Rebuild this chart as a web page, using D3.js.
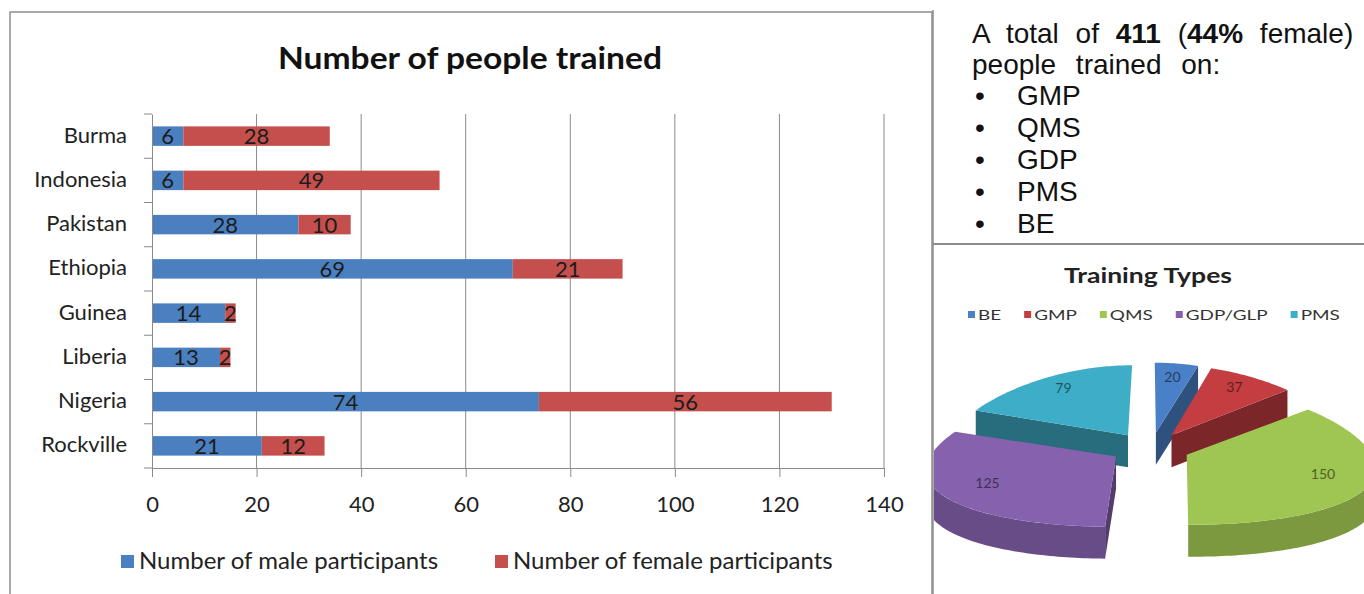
<!DOCTYPE html>
<html>
<head>
<meta charset="utf-8">
<script src="https://cdn.jsdelivr.net/npm/d3@7/dist/d3.min.js"></script>
<style>
body { margin: 0; background: #fff; }
svg { display: block; }
</style>
</head>
<body>
<script>
// bar chart data
const countries = ["Burma", "Indonesia", "Pakistan", "Ethiopia", "Guinea", "Liberia", "Nigeria", "Rockville"]
const maleCounts = [6, 6, 28, 69, 14, 13, 74, 21]
const femaleCounts = [28, 49, 10, 21, 2, 2, 56, 12]
const xTicks = [0, 20, 40, 60, 80, 100, 120, 140]
const seriesNames = ["Number of male participants", "Number of female participants"]

// pie data
const trainingTypes = ["BE", "GMP", "QMS", "GDP/GLP", "PMS"]
const trainingCounts = [20, 37, 150, 125, 79]

// summary text
const summaryTopics = ["GMP", "QMS", "GDP", "PMS", "BE"]

const barColors = ["#4a7fc0", "#c44f4c"]
const pieColors = ["#4a80c8", "#c43d40", "#9fc552", "#8661ae", "#3eaec8"]
const gridColor = "#8a8a8a"

const svg = d3.select("body").append("svg").attr("width", 1364).attr("height", 594)
    .style("font-family", "Lato, 'Open Sans', sans-serif")

// ---------- left frame: bar chart ----------
svg.append("rect").attr("x", 10).attr("y", 12).attr("width", 922).attr("height", 600)
    .attr("fill", "none").attr("stroke", "#8c8c8c").attr("stroke-width", 1.5)

svg.append("text").attr("x", 470).attr("y", 69).attr("text-anchor", "middle")
    .attr("font-size", 31).attr("font-weight", "bold").attr("fill", "#111")
    .attr("textLength", 384).attr("lengthAdjust", "spacingAndGlyphs")
    .text("Number of people trained")

const x = d3.scaleLinear().domain([0, 140]).range([152, 884])
const y = d3.scaleBand().domain(countries).range([114, 468]).paddingInner(0.56).paddingOuter(0.28)

// vertical gridlines
svg.selectAll("line.grid").data(xTicks.slice(1)).enter().append("line")
    .attr("class", "grid")
    .attr("x1", d => x(d)).attr("x2", d => x(d))
    .attr("y1", y.range()[0]).attr("y2", y.range()[1])
    .attr("stroke", gridColor).attr("stroke-width", 1)

const table = countries.map((c, i) => ({ country: c, male: maleCounts[i], female: femaleCounts[i] }))
const stacked = d3.stack().keys(["male", "female"])(table)

const layers = svg.selectAll("g.layer").data(stacked).enter().append("g")
    .attr("class", "layer").attr("fill", (d, i) => barColors[i])

layers.selectAll("rect").data(d => d).enter().append("rect")
    .attr("x", d => x(d[0]))
    .attr("y", d => y(d.data.country))
    .attr("width", d => x(d[1]) - x(d[0]))
    .attr("height", y.bandwidth())

layers.selectAll("text").data(d => d).enter().append("text")
    .attr("x", d => (x(d[0]) + x(d[1])) / 2)
    .attr("y", d => y(d.data.country) + y.bandwidth() / 2 + 8)
    .attr("text-anchor", "middle").attr("font-size", 22).attr("fill", "#1c1c1c")
    .text(d => d[1] - d[0])

// x axis
const xAxis = svg.append("g").attr("transform", "translate(0," + y.range()[1] + ")")
    .call(d3.axisBottom(x).tickValues(xTicks).tickSize(9).tickSizeOuter(0))
xAxis.attr("font-family", null)
xAxis.select(".domain").attr("stroke", gridColor)
xAxis.selectAll(".tick line").attr("stroke", gridColor)
xAxis.selectAll(".tick text").attr("font-size", 22).attr("fill", "#222").attr("y", 44).attr("dy", null)

// y axis
const yAxis = svg.append("g").attr("transform", "translate(" + x(0) + ",0)")
    .call(d3.axisLeft(y).tickSize(0).tickSizeOuter(0).tickPadding(25))
yAxis.attr("font-family", null)
yAxis.select(".domain").attr("stroke", gridColor)
yAxis.selectAll(".tick text").attr("font-size", 22).attr("fill", "#222").attr("dy", "0.3em")

svg.selectAll("line.ytick").data(d3.range(countries.length + 1)).enter().append("line")
    .attr("class", "ytick")
    .attr("x1", x(0) - 8).attr("x2", x(0))
    .attr("y1", i => y.range()[0] + i * y.step()).attr("y2", i => y.range()[0] + i * y.step())
    .attr("stroke", gridColor)

// bar legend
const legendX = [121, 495]
seriesNames.forEach((name, i) => {
    svg.append("rect").attr("x", legendX[i]).attr("y", 555).attr("width", 13).attr("height", 13)
        .attr("fill", barColors[i])
    svg.append("text").attr("x", legendX[i] + 18).attr("y", 569)
        .attr("font-size", 24).attr("fill", "#222")
        .text(name)
})

// ---------- right top: summary text ----------
svg.append("line").attr("x1", 933).attr("x2", 933).attr("y1", 10).attr("y2", 594)
    .attr("stroke", "#8c8c8c").attr("stroke-width", 1.5)
svg.append("line").attr("x1", 933).attr("x2", 1364).attr("y1", 244).attr("y2", 244)
    .attr("stroke", "#8c8c8c").attr("stroke-width", 2)

const summary = svg.append("g").attr("font-family", "'Liberation Sans', Arial, sans-serif")
    .attr("font-size", 28).attr("fill", "#111")
const line1 = summary.append("text").attr("x", 972).attr("y", 43).attr("word-spacing", 9)
line1.append("tspan").text("A total of ")
line1.append("tspan").attr("font-weight", "bold").text(d3.sum(maleCounts) + d3.sum(femaleCounts))
line1.append("tspan").text(" (")
line1.append("tspan").attr("font-weight", "bold")
    .text(Math.round(100 * d3.sum(femaleCounts) / (d3.sum(maleCounts) + d3.sum(femaleCounts))) + "%")
line1.append("tspan").text(" female)")
summary.append("text").attr("x", 972).attr("y", 74).attr("word-spacing", 12).text("people trained on:")
summaryTopics.forEach((t, i) => {
    summary.append("text").attr("x", 975).attr("y", 105 + i * 32).text("\u2022")
    summary.append("text").attr("x", 1017).attr("y", 105 + i * 32).text(t)
})

// ---------- right bottom: 3D pie ----------
svg.append("text").attr("x", 1148).attr("y", 283).attr("text-anchor", "middle")
    .attr("font-size", 21).attr("font-weight", "bold").attr("fill", "#222")
    .attr("textLength", 168).attr("lengthAdjust", "spacingAndGlyphs")
    .text("Training Types")

// pie legend (laid out from measured text widths, stretched like the source)
let lx = 968
trainingTypes.forEach((t, i) => {
    svg.append("rect").attr("x", lx).attr("y", 311).attr("width", 7).attr("height", 7).attr("fill", pieColors[i])
    const tx = svg.append("text").attr("transform", "translate(" + (lx + 10) + ",320) scale(1.35,1)")
        .attr("font-size", 14).attr("fill", "#333").text(t)
    lx += 10 + tx.node().getComputedTextLength() * 1.35 + 23
})

svg.append("clipPath").attr("id", "pieclip").append("rect")
    .attr("x", 934).attr("y", 246).attr("width", 430).attr("height", 348)

const P = { cx: 1150, cy: 448, R: 182, ky: 0.385, depth: 32, explode: 40, persp: 0.18 }
function project(X, Z, h) {
    return [P.cx + X * (1 + P.persp * Z / P.R), P.cy + Z * P.ky + h]
}
function slicePoint(s, a, r, h) {
    const mid = (s.startAngle + s.endAngle) / 2
    const X = P.explode * Math.sin(mid) + r * Math.sin(a)
    const Z = -P.explode * Math.cos(mid) - r * Math.cos(a)
    return project(X, Z, h)
}
function arcPoints(s, a0, a1, h) {
    const n = Math.max(2, Math.ceil((a1 - a0) / 0.02))
    return d3.range(n + 1).map(i => slicePoint(s, a0 + (a1 - a0) * i / n, P.R, h))
}
const poly = pts => d3.line()(pts) + "Z"

const pieArcs = d3.pie().sort(null).value(d => d)(trainingCounts)
pieArcs.forEach((s, i) => { s.color = pieColors[i]; s.mid = (s.startAngle + s.endAngle) / 2 })
const drawOrder = pieArcs.slice().sort((a, b) => Math.cos(b.mid) - Math.cos(a.mid))

const pieG = svg.append("g").attr("clip-path", "url(#pieclip)")
drawOrder.forEach(s => {
    const g = pieG.append("g")
    const c = d3.color(s.color)
    const cutFill = c.darker(1.3).formatHex()
    const sideFill = c.darker(0.7).formatHex()
    const D = P.depth
    // cut faces facing the viewer
    if (Math.sin(s.startAngle) < -0.01) {
        g.append("path").attr("fill", cutFill).attr("d", poly([
            slicePoint(s, s.startAngle, 0, 0), slicePoint(s, s.startAngle, P.R, 0),
            slicePoint(s, s.startAngle, P.R, D), slicePoint(s, s.startAngle, 0, D)]))
    }
    if (Math.sin(s.endAngle) > 0.01) {
        g.append("path").attr("fill", cutFill).attr("d", poly([
            slicePoint(s, s.endAngle, 0, 0), slicePoint(s, s.endAngle, P.R, 0),
            slicePoint(s, s.endAngle, P.R, D), slicePoint(s, s.endAngle, 0, D)]))
    }
    // outer rim
    const b0 = Math.max(s.startAngle, Math.PI / 2), b1 = Math.min(s.endAngle, 3 * Math.PI / 2)
    if (b1 > b0) {
        g.append("path").attr("fill", sideFill)
            .attr("d", poly(arcPoints(s, b0, b1, 0).concat(arcPoints(s, b0, b1, D).reverse())))
    }
    // top face
    g.append("path").attr("fill", s.color)
        .attr("d", poly([slicePoint(s, 0, 0, 0)].concat(arcPoints(s, s.startAngle, s.endAngle, 0))))
    const lp = slicePoint(s, s.mid, P.R * 0.76, 0)
    g.append("text").attr("x", lp[0]).attr("y", lp[1] - 4).attr("text-anchor", "middle")
        .attr("dominant-baseline", "central").attr("font-size", 14)
        .attr("fill", c.darker(2).formatHex()).text(s.data)
})
</script>
</body>
</html>
